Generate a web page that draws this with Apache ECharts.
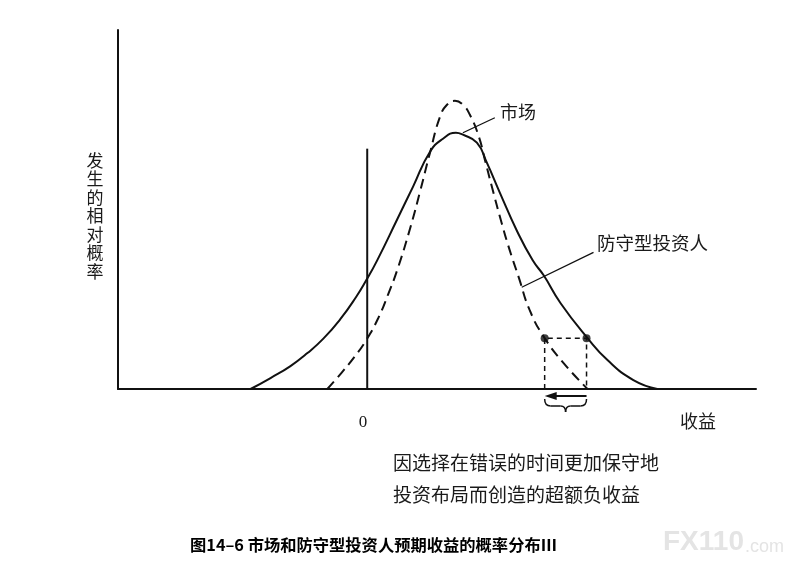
<!DOCTYPE html>
<html>
<head>
<meta charset="utf-8">
<script src="https://cdn.jsdelivr.net/npm/echarts@6/dist/echarts.min.js"></script>
<style>
  html, body { margin: 0; padding: 0; background: #fff; }
  #main { width: 797px; height: 566px; }
</style>
</head>
<body>
<div id="main"></div>
<script>
// 市场收益分布（实线）
var marketCurve = [
  [-11.7, 0], [-9.7, 1.1], [-7.7, 2.3], [-6.0, 3.6], [-4.4, 5.05], [-2.7, 7.0],
  [-1.1, 9.25], [-0.1, 10.9], [1.0, 12.9], [3.0, 17.0], [4.6, 20.3], [6.3, 23.8],
  [7.6, 25.1], [8.9, 25.7], [9.6, 25.5], [11.0, 24.7], [12.0, 22.7], [13.3, 19.7],
  [15.0, 15.9], [16.6, 12.9], [17.7, 11.4], [19.4, 8.6], [22.1, 5.1], [24.1, 2.9],
  [26.7, 0.9], [29.1, 0]
];
// 防守型投资人收益分布（虚线）
var defensiveCurve = [
  [-4.0, 0], [-2.6, 1.6], [-1.3, 3.2], [-0.1, 4.9], [1.1, 7.1], [2.1, 9.5],
  [3.0, 11.9], [4.3, 16.1], [5.3, 19.8], [6.3, 23.7], [7.3, 27.3], [8.0, 28.5],
  [8.8, 28.9], [9.6, 28.5], [10.3, 27.5], [11.2, 25.3], [11.8, 23.0], [12.5, 20.3],
  [13.5, 16.6], [14.3, 13.9], [15.2, 11.2], [16.3, 7.9], [17.8, 5.1], [19.7, 2.6],
  [22.1, 0]
];
var zeroLine = [[0, 0], [0, 24.1]];
var marketLeader = [[9.6, 25.7], [12.8, 27.2]];
var defensiveLeader = [[15.5, 10.2], [22.7, 13.7]];
var gapPoints = [[17.8, 5.1], [22.0, 5.1]];
var gapBox = [[17.8, 0], [17.8, 5.1], [22.0, 5.1], [22.0, 0]];

var yLabel = '发生的相对概率';
var xLabel = '收益';
var zeroLabel = '0';
var marketLabel = '市场';
var defensiveLabel = '防守型投资人';
var noteLines = ['因选择在错误的时间更加保守地', '投资布局而创造的超额负收益'];
var titleText = '图14–6 市场和防守型投资人预期收益的概率分布Ⅲ';

var ink = '#111';
var textFont = "'Liberation Serif', 'Noto Sans CJK SC', serif";

var chart = echarts.init(document.getElementById('main'));

function lineSeries(data, width, dash, smooth) {
  return {
    type: 'line',
    data: data,
    smooth: smooth ? 0.5 : false,
    showSymbol: false,
    silent: true,
    animation: false,
    lineStyle: { color: ink, width: width, type: dash || 'solid' }
  };
}

chart.setOption({
  animation: false,
  grid: { left: 118, right: 41, top: 30, bottom: 177 },
  xAxis: {
    type: 'value', min: -25, max: 39,
    axisLine: { show: true, onZero: false, lineStyle: { color: ink, width: 2 } },
    axisTick: { show: false }, axisLabel: { show: false }, splitLine: { show: false }
  },
  yAxis: {
    type: 'value', min: 0, max: 36,
    axisLine: { show: true, onZero: false, lineStyle: { color: ink, width: 2 } },
    axisTick: { show: false }, axisLabel: { show: false }, splitLine: { show: false }
  },
  series: [
    lineSeries(marketCurve, 2, 'solid', true),
    lineSeries(defensiveCurve, 2, [10, 6], true),
    lineSeries(zeroLine, 2),
    lineSeries(marketLeader, 1.3),
    lineSeries(defensiveLeader, 1.3),
    lineSeries(gapBox, 1.5, [5, 4]),
    {
      type: 'scatter', data: gapPoints, symbolSize: 8, silent: true,
      itemStyle: { color: ink }
    }
  ]
});

function px(p) { return chart.convertToPixel({ gridIndex: 0 }, p); }

var left = px([gapPoints[0][0], 0]);
var right = px([gapPoints[1][0], 0]);
var ay = left[1] + 7;
var bx1 = left[0], bx2 = right[0], bm = (bx1 + bx2) / 2;
var by = left[1] + 10;

function txt(x, y, s, size, extra) {
  var st = { x: x, y: y, text: s, fill: '#1a1a1a', font: size + 'px ' + textFont };
  for (var k in extra) st[k] = extra[k];
  return { type: 'text', style: st, silent: true };
}
function seg(x1, y1, x2, y2) {
  return { type: 'line', silent: true, shape: { x1: x1, y1: y1, x2: x2, y2: y2 },
    style: { stroke: ink, lineWidth: 1.5 } };
}
function curl(x1, y1, x2, y2, cx, cy) {
  return { type: 'bezierCurve', silent: true,
    shape: { x1: x1, y1: y1, x2: x2, y2: y2, cpx1: cx, cpy1: cy },
    style: { stroke: ink, lineWidth: 1.5, fill: null } };
}

chart.setOption({
  graphic: [
    // arrow pointing left
    { type: 'line', silent: true, shape: { x1: bx2, y1: ay, x2: bx1 + 8, y2: ay }, style: { stroke: ink, lineWidth: 2 } },
    { type: 'polygon', silent: true, shape: { points: [[bx1, ay], [bx1 + 12, ay - 4], [bx1 + 12, ay + 4]] }, style: { fill: ink } },
    // brace
    curl(bx1, by, bx1 + 6, by + 7, bx1, by + 7),
    seg(bx1 + 6, by + 7, bm - 5, by + 7),
    curl(bm - 5, by + 7, bm, by + 13, bm, by + 7),
    curl(bm, by + 13, bm + 5, by + 7, bm, by + 7),
    seg(bm + 5, by + 7, bx2 - 6, by + 7),
    curl(bx2 - 6, by + 7, bx2, by, bx2, by + 7),
    txt(95, 218, yLabel.split('').join('\n'), 17, { align: 'center', verticalAlign: 'middle', lineHeight: 18.5 }),
    txt(363, 423, zeroLabel, 17, { align: 'center', verticalAlign: 'middle' }),
    txt(698, 423, xLabel, 18, { align: 'center', verticalAlign: 'middle' }),
    txt(500, 114, marketLabel, 18, { verticalAlign: 'middle' }),
    txt(597, 245, defensiveLabel, 18.5, { verticalAlign: 'middle' }),
    txt(393, 465, noteLines[0], 19, { verticalAlign: 'middle' }),
    txt(393, 497, noteLines[1], 19, { verticalAlign: 'middle' }),
    {
      type: 'text', silent: true,
      style: { x: 190, y: 545, text: titleText, fill: '#000', verticalAlign: 'middle',
        font: "bold 16.3px 'Noto Sans CJK SC', sans-serif" }
    },
    // watermark
    {
      type: 'text', silent: true,
      style: { x: 663, y: 542, text: 'FX110', fill: '#e4e4e4', verticalAlign: 'middle',
        font: "bold 28px 'Liberation Sans', sans-serif" }
    },
    {
      type: 'text', silent: true,
      style: { x: 745, y: 547, text: '.com', fill: '#e4e4e4', verticalAlign: 'middle',
        font: "18px 'Liberation Sans', sans-serif" }
    }
  ]
});
</script>
</body>
</html>
